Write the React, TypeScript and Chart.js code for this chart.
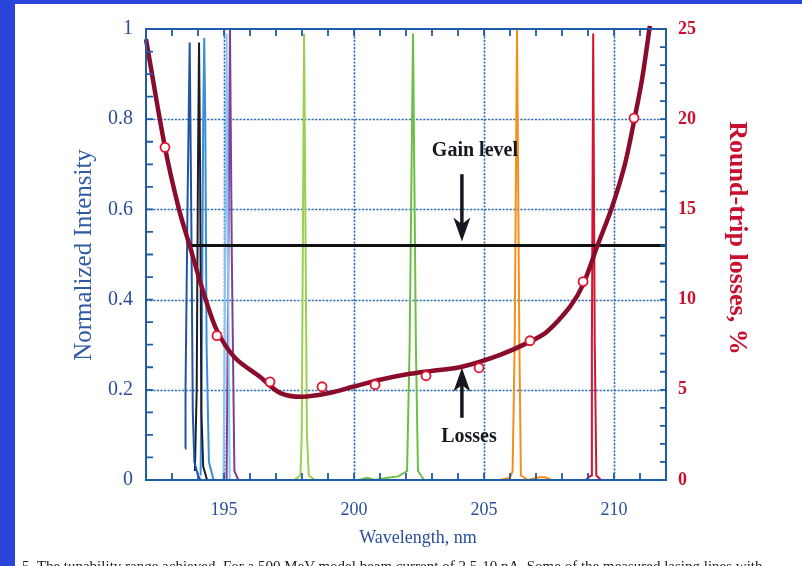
import React, { useEffect, useRef } from "react";
import { Chart, registerables } from "chart.js";

Chart.register(...registerables);

// ---------- axis ranges & ticks ----------
const wavelengthRange = [192, 212];
const intensityRange = [0, 1];
const lossRange = [0, 25];
const wavelengthTicks = [195, 200, 205, 210];
const intensityTicks = [0, 0.2, 0.4, 0.6, 0.8, 1];
const lossTicks = [0, 5, 10, 15, 20, 25];

// ---------- round-trip losses (right axis, %) ----------
const lossCurveWl = [192.0, 192.73, 193.27, 193.69, 194.23, 194.73, 195.42, 196.38, 197.15, 198.0, 199.08, 199.96, 201.0, 202.15, 203.04, 204.15, 205.62, 206.77, 207.42, 208.31, 208.81, 209.35, 209.92, 210.42, 210.77, 211.08, 211.38];
const lossCurveVal = [24.44, 18.44, 15.0, 12.94, 10.3, 8.28, 6.78, 5.72, 4.83, 4.61, 4.83, 5.17, 5.56, 5.89, 6.06, 6.28, 6.94, 7.67, 8.22, 9.61, 10.83, 12.94, 15.11, 17.5, 19.89, 22.22, 25.17];
const lossPointWl = [192.73, 194.73, 196.77, 198.77, 200.81, 202.77, 204.81, 206.77, 208.81, 210.77];
const lossPointVal = [18.44, 8.0, 5.44, 5.17, 5.28, 5.78, 6.22, 7.72, 11.0, 20.06];

// ---------- gain level (left axis) ----------
const gainLevel = 0.52;
const gainStartWl = 193.72;

// ---------- lasing lines (left axis, normalized intensity) ----------
const peak1Wl = [193.5, 193.52, 193.6, 193.68, 193.74, 193.8, 193.86, 194.0, 194.1];
const peak1Int = [0.07, 0.2, 0.62, 0.97, 0.6, 0.15, 0.04, 0.01, 0.0];
const peak2Wl = [193.88, 193.95, 194.0, 194.04, 194.08, 194.13, 194.2, 194.35];
const peak2Int = [0.02, 0.2, 0.7, 0.97, 0.7, 0.15, 0.03, 0.0];
const peak3Wl = [194.1, 194.15, 194.2, 194.24, 194.28, 194.33, 194.42, 194.6];
const peak3Int = [0.01, 0.3, 0.8, 0.98, 0.8, 0.3, 0.04, 0.0];
const peak4Wl = [194.98, 195.05, 195.1, 195.15, 195.22];
const peak4Int = [0.0, 0.5, 0.99, 0.5, 0.0];
const peak5Wl = [195.1, 195.17, 195.23, 195.3, 195.4, 195.55];
const peak5Int = [0.0, 0.5, 1.0, 0.5, 0.02, 0.0];
const peak6Wl = [197.7, 197.94, 197.99, 198.08, 198.19, 198.26, 198.5, 198.7];
const peak6Int = [0.0, 0.01, 0.1, 0.99, 0.1, 0.01, 0.0, 0.0];
const peak7Wl = [200.2, 200.5, 200.8, 201.3, 201.7, 202.04, 202.14, 202.27, 202.38, 202.46, 202.7, 203.0];
const peak7Int = [0.0, 0.005, 0.0, 0.005, 0.008, 0.02, 0.3, 0.99, 0.3, 0.02, 0.0, 0.0];
const peak8Wl = [205.6, 206.0, 206.1, 206.18, 206.27, 206.36, 206.42, 206.7, 207.1, 207.35, 207.6];
const peak8Int = [0.0, 0.005, 0.02, 0.3, 1.0, 0.3, 0.01, 0.0, 0.006, 0.006, 0.0];
const peak9Wl = [208.9, 209.12, 209.15, 209.2, 209.26, 209.32, 209.5];
const peak9Int = [0.0, 0.01, 0.3, 0.99, 0.3, 0.01, 0.0];

const peakWls = [peak1Wl, peak2Wl, peak3Wl, peak4Wl, peak5Wl, peak6Wl, peak7Wl, peak8Wl, peak9Wl];
const peakInts = [peak1Int, peak2Int, peak3Int, peak4Int, peak5Int, peak6Int, peak7Int, peak8Int, peak9Int];
const peakColors = ["#1f55a4", "#1c1c2e", "#3b8fd6", "#8cc6ee", "#7b3f9c", "#9ccf4e", "#6cbf45", "#f2901c", "#d5142f"];

// ---------- texts ----------
const xTitle = "Wavelength, nm";
const yTitle = "Normalized Intensity";
const y2Title = "Round-trip losses, %";
const gainLabel = "Gain level";
const lossLabel = "Losses";
const caption = "5.  The tunability range achieved. For a 500 MeV model beam current of 2.5-10 nA. Some of the measured lasing lines with";

// annotation anchors in data units (wavelength, intensity)
const gainText = { wl: 204.65, y: 0.729 };
const gainArrow = { wl: 204.15, from: 0.678, to: 0.529 };
const lossText = { wl: 204.42, y: 0.096 };
const lossArrow = { wl: 204.15, from: 0.138, to: 0.249 };

const BLUE_TEXT = "#2b4e9c";
const FRAME = "#1f5ca8";
const GRID = "#2e6db8";
const RED_TEXT = "#c8102e";
const SERIF = "'Liberation Serif', 'Times New Roman', serif";

const zip = (xs: number[], ys: number[]) => xs.map((x, i) => ({ x, y: ys[i] }));

function drawArrow(ctx: CanvasRenderingContext2D, x: number, y0: number, y1: number) {
  const dir = Math.sign(y1 - y0);
  const headLen = 24;
  const headW = 8.5;
  ctx.strokeStyle = "#17171f";
  ctx.fillStyle = "#17171f";
  ctx.lineWidth = 3.5;
  ctx.beginPath();
  ctx.moveTo(x, y0);
  ctx.lineTo(x, y1 - dir * headLen * 0.6);
  ctx.stroke();
  ctx.beginPath();
  ctx.moveTo(x, y1);
  ctx.lineTo(x - headW, y1 - dir * headLen);
  ctx.lineTo(x, y1 - dir * headLen * 0.72);
  ctx.lineTo(x + headW, y1 - dir * headLen);
  ctx.closePath();
  ctx.fill();
}

const decor = {
  id: "decor",
  beforeDatasetsDraw(chart: any) {
    const { ctx, chartArea: a, scales } = chart;
    const xs = scales.x;
    const ys = scales.y;
    ctx.save();
    ctx.strokeStyle = GRID;
    ctx.lineWidth = 1.6;
    ctx.setLineDash([2.2, 1.4]);
    wavelengthTicks.forEach((v) => {
      const px = Math.round(xs.getPixelForValue(v)) + 0.5;
      ctx.beginPath();
      ctx.moveTo(px, a.top);
      ctx.lineTo(px, a.bottom);
      ctx.stroke();
    });
    intensityTicks
      .filter((v) => v > 0 && v < 1)
      .forEach((v) => {
        const py = Math.round(ys.getPixelForValue(v)) + 0.5;
        ctx.beginPath();
        ctx.moveTo(a.left, py);
        ctx.lineTo(a.right, py);
        ctx.stroke();
      });
    ctx.restore();
  },
  afterDraw(chart: any) {
    const { ctx, chartArea: a, scales } = chart;
    const xs = scales.x;
    const ys = scales.y;
    const y2 = scales.y2;
    ctx.save();
    // frame
    ctx.strokeStyle = FRAME;
    ctx.lineWidth = 2;
    ctx.strokeRect(a.left, a.top, a.right - a.left, a.bottom - a.top);
    // inward ticks
    ctx.lineWidth = 1.8;
    ctx.beginPath();
    for (let v = wavelengthRange[0] + 1; v < wavelengthRange[1]; v++) {
      const px = xs.getPixelForValue(v);
      ctx.moveTo(px, a.bottom);
      ctx.lineTo(px, a.bottom - 7);
      ctx.moveTo(px, a.top);
      ctx.lineTo(px, a.top + 7);
    }
    for (let k = 1; k < 20; k++) {
      const py = ys.getPixelForValue(k * 0.05);
      ctx.moveTo(a.left, py);
      ctx.lineTo(a.left + 7, py);
    }
    for (let v = 1; v < lossRange[1]; v++) {
      const py = y2.getPixelForValue(v);
      ctx.moveTo(a.right, py);
      ctx.lineTo(a.right - 6, py);
    }
    ctx.stroke();

    // axis titles
    ctx.textAlign = "center";
    ctx.textBaseline = "middle";
    ctx.fillStyle = BLUE_TEXT;
    ctx.font = `18px ${SERIF}`;
    ctx.fillText(xTitle, 418, 538);

    ctx.save();
    ctx.translate(84, 255);
    ctx.rotate(-Math.PI / 2);
    ctx.fillStyle = "#2f5aa6";
    ctx.font = `25px ${SERIF}`;
    ctx.fillText(yTitle, 0, 0);
    ctx.restore();

    ctx.save();
    ctx.translate(737, 238);
    ctx.rotate(Math.PI / 2);
    ctx.fillStyle = RED_TEXT;
    ctx.font = `bold 26px ${SERIF}`;
    ctx.fillText(y2Title, 0, 0);
    ctx.restore();

    // annotations
    ctx.fillStyle = "#17171f";
    ctx.font = `bold 20px ${SERIF}`;
    ctx.fillText(gainLabel, xs.getPixelForValue(gainText.wl), ys.getPixelForValue(gainText.y));
    ctx.fillText(lossLabel, xs.getPixelForValue(lossText.wl), ys.getPixelForValue(lossText.y));
    drawArrow(ctx, xs.getPixelForValue(gainArrow.wl), ys.getPixelForValue(gainArrow.from), ys.getPixelForValue(gainArrow.to));
    drawArrow(ctx, xs.getPixelForValue(lossArrow.wl), ys.getPixelForValue(lossArrow.from), ys.getPixelForValue(lossArrow.to));
    ctx.restore();
  },
};

export default function App() {
  const ref = useRef<HTMLCanvasElement | null>(null);

  useEffect(() => {
    if (!ref.current) return;
    const peakSets = peakWls.map((wl, i) => ({
      type: "line" as const,
      data: zip(wl, peakInts[i]),
      yAxisID: "y",
      borderColor: peakColors[i],
      borderWidth: 2,
      pointRadius: 0,
      tension: 0,
      order: 5,
    }));
    const chart = new Chart(ref.current, {
      type: "line",
      data: {
        datasets: [
          {
            data: zip(lossPointWl, lossPointVal),
            yAxisID: "y2",
            showLine: false,
            pointRadius: 4.5,
            pointBorderWidth: 1.8,
            pointBorderColor: "#e2132f",
            pointBackgroundColor: "#ffffff",
            order: 0,
          },
          {
            data: zip(lossCurveWl, lossCurveVal),
            yAxisID: "y2",
            borderColor: "#8a0c2c",
            borderWidth: 4.5,
            pointRadius: 0,
            tension: 0.3,
            clip: 8,
            order: 1,
          },
          {
            data: [
              { x: gainStartWl, y: gainLevel },
              { x: wavelengthRange[1], y: gainLevel },
            ],
            yAxisID: "y",
            borderColor: "#111111",
            borderWidth: 3,
            pointRadius: 0,
            order: 2,
          },
          ...peakSets,
        ] as any,
      },
      options: {
        responsive: false,
        animation: false,
        devicePixelRatio: 1,
        layout: { padding: { top: 29, left: 0, right: 0, bottom: 0 } },
        plugins: { legend: { display: false }, tooltip: { enabled: false } },
        scales: {
          x: {
            type: "linear",
            position: "bottom",
            min: wavelengthRange[0],
            max: wavelengthRange[1],
            grid: { display: false, drawTicks: false },
            border: { display: false },
            afterBuildTicks: (s: any) => {
              s.ticks = wavelengthTicks.map((value) => ({ value }));
            },
            afterFit: (s: any) => {
              s.height = 86;
            },
            ticks: {
              padding: 19,
              color: BLUE_TEXT,
              font: { family: SERIF, size: 18 },
              callback: (v: any) => String(v),
            },
          },
          y: {
            type: "linear",
            position: "left",
            min: intensityRange[0],
            max: intensityRange[1],
            grid: { display: false, drawTicks: false },
            border: { display: false },
            afterBuildTicks: (s: any) => {
              s.ticks = intensityTicks.map((value) => ({ value }));
            },
            afterFit: (s: any) => {
              s.width = 146;
            },
            ticks: {
              padding: 13,
              color: BLUE_TEXT,
              font: { family: SERIF, size: 20 },
              callback: (v: any) => (v === 0 ? "0" : v === 1 ? "1" : Number(v).toFixed(1)),
            },
          },
          y2: {
            type: "linear",
            position: "right",
            min: lossRange[0],
            max: lossRange[1],
            grid: { display: false, drawTicks: false },
            border: { display: false },
            afterBuildTicks: (s: any) => {
              s.ticks = lossTicks.map((value) => ({ value }));
            },
            afterFit: (s: any) => {
              s.width = 136;
            },
            ticks: {
              padding: 12,
              color: RED_TEXT,
              font: { family: SERIF, size: 18, weight: "bold" },
              callback: (v: any) => String(v),
            },
          },
        },
      } as any,
      plugins: [decor],
    });
    return () => chart.destroy();
  }, []);

  return (
    <div
      style={{
        position: "fixed",
        left: 0,
        top: 0,
        width: 802,
        height: 566,
        background: "#2a44dc",
        overflow: "hidden",
      }}
    >
      <div
        style={{
          position: "absolute",
          left: 15,
          top: 4,
          right: 0,
          bottom: 0,
          background: "#ffffff",
        }}
      />
      <canvas
        ref={ref}
        width={802}
        height={566}
        style={{ position: "absolute", left: 0, top: 0, width: 802, height: 566 }}
      />
      <div
        style={{
          position: "absolute",
          left: 22,
          top: 557,
          whiteSpace: "nowrap",
          fontFamily: SERIF,
          fontSize: 15,
          lineHeight: "18px",
          color: "#222",
        }}
      >
        {caption}
      </div>
    </div>
  );
}
